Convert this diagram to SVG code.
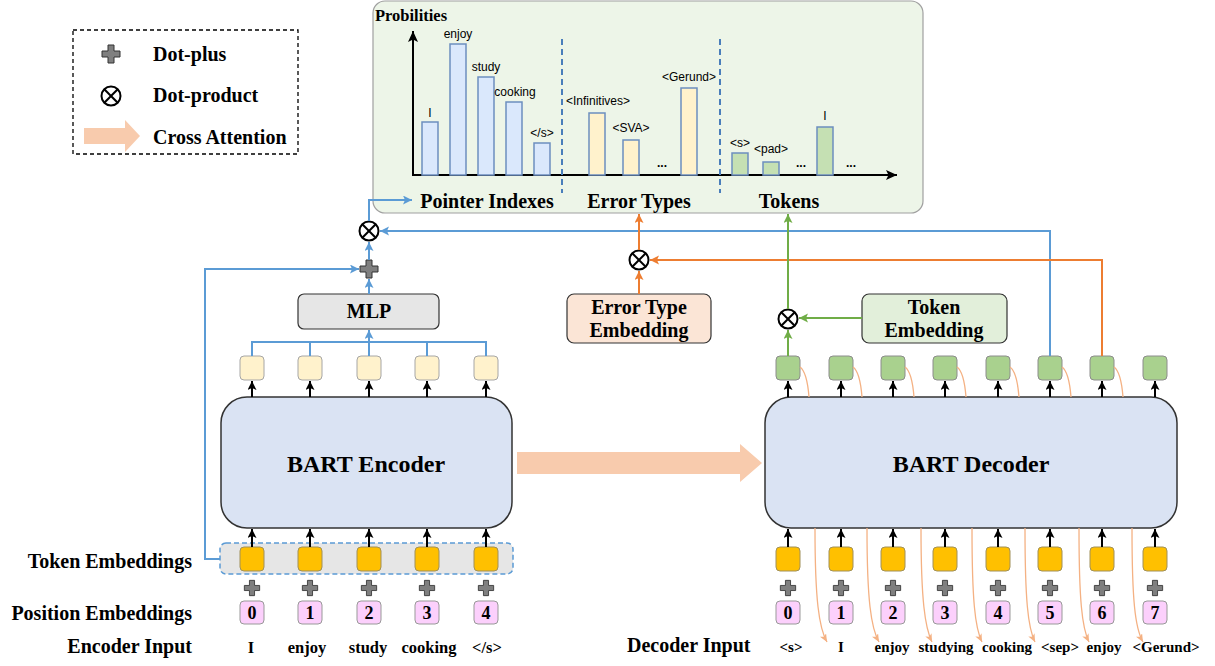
<svg xmlns="http://www.w3.org/2000/svg" width="1215" height="666" viewBox="0 0 1215 666">
<style>
.serif{font-family:"Liberation Serif","Times New Roman",serif;font-weight:bold;fill:#000}
.sans{font-family:"Liberation Sans",Arial,sans-serif;fill:#000;font-size:12px}
.lbl{font-size:20px}
.mid{text-anchor:middle}
.end{text-anchor:end}
.blk{stroke:#000;stroke-width:2;fill:none}
.blue{stroke:#5B9BD5;stroke-width:2;fill:none}
.orange{stroke:#ED7D31;stroke-width:2;fill:none}
.green{stroke:#70AD47;stroke-width:2;fill:none}
.thin{stroke:#F4B183;stroke-width:1.3;fill:none}
.ybox{fill:#FFF2CC;stroke:#A6A6A6;stroke-width:1}
.gbox{fill:#A9D18E;stroke:#8C8C8C;stroke-width:1}
.obox{fill:#FFC000;stroke:#A0905A;stroke-width:1}
.pbox{fill:#FCD0FC;stroke:#999;stroke-width:1}
.bar{stroke:#6C8EBF;stroke-width:1.5}
.sep{stroke:#4A7EBB;stroke-width:2;stroke-dasharray:6,4;fill:none}
.otimes circle{fill:#fff;stroke:#000;stroke-width:2}
.otimes line{stroke:#000;stroke-width:2}
</style>
<defs>
<marker id="aBlk" markerUnits="userSpaceOnUse" markerWidth="10" markerHeight="10" refX="9" refY="4.5" orient="auto"><path d="M0,0 L9,4.5 L0,9 L2,4.5 z" fill="#000"/></marker>
<marker id="aBlue" markerUnits="userSpaceOnUse" markerWidth="10" markerHeight="10" refX="9" refY="4.5" orient="auto"><path d="M0,0 L9,4.5 L0,9 L2,4.5 z" fill="#5B9BD5"/></marker>
<marker id="aOr" markerUnits="userSpaceOnUse" markerWidth="10" markerHeight="10" refX="9" refY="4.5" orient="auto"><path d="M0,0 L9,4.5 L0,9 L2,4.5 z" fill="#ED7D31"/></marker>
<marker id="aGr" markerUnits="userSpaceOnUse" markerWidth="10" markerHeight="10" refX="9" refY="4.5" orient="auto"><path d="M0,0 L9,4.5 L0,9 L2,4.5 z" fill="#70AD47"/></marker>
<marker id="aThin" markerUnits="userSpaceOnUse" markerWidth="9" markerHeight="8" refX="8" refY="3.5" orient="auto"><path d="M0,0 L8,3.5 L0,7 L2,3.5 z" fill="#F4B183"/></marker>
<marker id="aAxis" markerUnits="userSpaceOnUse" markerWidth="12" markerHeight="12" refX="11" refY="5" orient="auto"><path d="M0,0 L11,5 L0,10 L2.5,5 z" fill="#000"/></marker>
<path id="plus" d="M-3,-9 H3 V-3 H9 V3 H3 V9 H-3 V3 H-9 V-3 H-3 Z" fill="#7F7F7F" stroke="#333" stroke-width="1"/>
<g id="ot" class="otimes"><circle r="9.5"/><line x1="-6.7" y1="-6.7" x2="6.7" y2="6.7"/><line x1="-6.7" y1="6.7" x2="6.7" y2="-6.7"/></g>
</defs>

<!-- Legend -->
<g id="legend">
<rect x="73" y="30" width="225" height="124" fill="#fff" stroke="#000" stroke-width="1.3" stroke-dasharray="4,3"/>
<use href="#plus" x="111" y="54"/>
<text class="serif lbl" x="153" y="61">Dot-plus</text>
<use href="#ot" x="111" y="96"/>
<text class="serif lbl" x="153" y="102">Dot-product</text>
<path d="M84,128 H125 V120 L140,136 L125,152 V144 H84 Z" fill="#F8CBAD"/>
<text class="serif lbl" x="153" y="144">Cross Attention</text>
</g>

<!-- Chart panel -->
<g id="chart">
<rect x="373" y="1" width="550" height="212" rx="12" fill="#EDF5E8" stroke="#A0A0A0" stroke-width="1.2"/>
<text class="serif" x="375" y="21" font-size="16.5">Probilities</text>
<line class="blk" x1="413" y1="175" x2="413" y2="31" marker-end="url(#aAxis)"/>
<line class="blk" x1="412" y1="175" x2="897" y2="175" marker-end="url(#aAxis)"/>
<line class="sep" x1="562" y1="39" x2="562" y2="193"/>
<line class="sep" x1="720" y1="39" x2="720" y2="193"/>
<g fill="#DAE8FC">
<rect class="bar" x="422" y="122" width="16" height="53"/>
<rect class="bar" x="450" y="44" width="16" height="131"/>
<rect class="bar" x="478" y="77" width="16" height="98"/>
<rect class="bar" x="506" y="102" width="16" height="73"/>
<rect class="bar" x="534" y="143" width="16" height="32"/>
</g>
<g fill="#FFF2CC">
<rect class="bar" x="589" y="113" width="16" height="62"/>
<rect class="bar" x="623" y="140" width="16" height="35"/>
<rect class="bar" x="681" y="88" width="16" height="87"/>
</g>
<g fill="#C5E0B3">
<rect class="bar" x="732" y="153" width="16" height="22"/>
<rect class="bar" x="763" y="162" width="16" height="13"/>
<rect class="bar" x="817" y="127" width="16" height="48"/>
</g>
<text class="sans mid" x="430" y="117">I</text>
<text class="sans mid" x="458" y="38">enjoy</text>
<text class="sans mid" x="486" y="71">study</text>
<text class="sans mid" x="515" y="96">cooking</text>
<text class="sans mid" x="542" y="137">&lt;/s&gt;</text>
<text class="sans mid" x="598" y="105">&lt;Infinitives&gt;</text>
<text class="sans mid" x="631" y="132">&lt;SVA&gt;</text>
<text class="sans mid" x="689" y="81">&lt;Gerund&gt;</text>
<text class="sans mid" x="740" y="147">&lt;s&gt;</text>
<text class="sans mid" x="771" y="153">&lt;pad&gt;</text>
<text class="sans mid" x="825" y="120">I</text>
<text class="sans mid" x="662" y="167" font-weight="bold" font-size="14">...</text>
<text class="sans mid" x="801" y="167" font-weight="bold" font-size="14">...</text>
<text class="sans mid" x="851" y="167" font-weight="bold" font-size="14">...</text>
<text class="serif lbl mid" x="487" y="208">Pointer Indexes</text>
<text class="serif lbl mid" x="639" y="208">Error Types</text>
<text class="serif lbl mid" x="789" y="208">Tokens</text>
</g>

<!-- Operators -->
<g id="otimes-enc"><use href="#ot" x="369" y="231"/></g>
<g id="plus-enc"><use href="#plus" x="369" y="269"/></g>
<g id="otimes-err"><use href="#ot" x="639" y="260"/></g>
<g id="otimes-tok"><use href="#ot" x="788" y="319"/></g>

<!-- MLP -->
<g id="mlp">
<rect x="298" y="294" width="141" height="35" rx="6" fill="#E6E6E6" stroke="#333" stroke-width="1.2"/>
<text class="serif lbl mid" x="369" y="318">MLP</text>
</g>

<!-- Error Type Embedding -->
<g id="err-emb">
<rect x="567" y="294" width="144" height="49" rx="7" fill="#FBE5D6" stroke="#333" stroke-width="1.2"/>
<text class="serif lbl mid" x="639" y="314">Error Type</text>
<text class="serif lbl mid" x="639" y="337">Embedding</text>
</g>

<!-- Token Embedding -->
<g id="tok-emb">
<rect x="862" y="294" width="145" height="49" rx="7" fill="#E2EFDA" stroke="#333" stroke-width="1.2"/>
<text class="serif lbl mid" x="934" y="314">Token</text>
<text class="serif lbl mid" x="934" y="337">Embedding</text>
</g>

<!-- Encoder -->
<g id="encoder">
<rect x="221" y="397" width="291" height="131" rx="26" fill="#DAE3F3" stroke="#333" stroke-width="1.5"/>
<text class="serif mid" x="366" y="472" font-size="24">BART Encoder</text>
</g>

<!-- Decoder -->
<g id="decoder">
<rect x="765" y="397" width="412" height="131" rx="26" fill="#DAE3F3" stroke="#333" stroke-width="1.5"/>
<text class="serif mid" x="971" y="472" font-size="24">BART Decoder</text>
</g>

<!-- Cross attention arrow -->
<g id="cross-attn">
<path d="M517,452 H740 V444 L762,463 L740,482 V474 H517 Z" fill="#F8CBAD"/>
</g>

<!-- Encoder hidden boxes -->
<g id="enc-hidden">
<rect class="ybox" x="240" y="356" width="24" height="24" rx="4"/>
<rect class="ybox" x="298" y="356" width="24" height="24" rx="4"/>
<rect class="ybox" x="357" y="356" width="24" height="24" rx="4"/>
<rect class="ybox" x="415" y="356" width="24" height="24" rx="4"/>
<rect class="ybox" x="474" y="356" width="24" height="24" rx="4"/>
</g>

<!-- Encoder token embeddings -->
<g id="enc-emb">
<rect x="220" y="543" width="293" height="31" rx="6" fill="#E6E6E6" stroke="#5B9BD5" stroke-width="1.5" stroke-dasharray="5,3"/>
<rect class="obox" x="240" y="547" width="24" height="24" rx="4"/>
<rect class="obox" x="298" y="547" width="24" height="24" rx="4"/>
<rect class="obox" x="357" y="547" width="24" height="24" rx="4"/>
<rect class="obox" x="415" y="547" width="24" height="24" rx="4"/>
<rect class="obox" x="474" y="547" width="24" height="24" rx="4"/>
</g>
<g id="enc-plus">
<use href="#plus" transform="translate(252,588) scale(0.85)"/>
<use href="#plus" transform="translate(310,588) scale(0.85)"/>
<use href="#plus" transform="translate(369,588) scale(0.85)"/>
<use href="#plus" transform="translate(427,588) scale(0.85)"/>
<use href="#plus" transform="translate(486,588) scale(0.85)"/>
</g>
<g id="enc-pos">
<rect class="pbox" x="240" y="601" width="24" height="23" rx="4"/>
<rect class="pbox" x="298" y="601" width="24" height="23" rx="4"/>
<rect class="pbox" x="357" y="601" width="24" height="23" rx="4"/>
<rect class="pbox" x="415" y="601" width="24" height="23" rx="4"/>
<rect class="pbox" x="474" y="601" width="24" height="23" rx="4"/>
<text class="serif mid" font-size="18" x="252" y="619">0</text>
<text class="serif mid" font-size="18" x="310" y="619">1</text>
<text class="serif mid" font-size="18" x="369" y="619">2</text>
<text class="serif mid" font-size="18" x="427" y="619">3</text>
<text class="serif mid" font-size="18" x="486" y="619">4</text>
</g>
<g id="enc-input">
<text class="serif mid" font-size="16.5" x="251" y="653">I</text>
<text class="serif mid" font-size="16.5" x="307" y="653">enjoy</text>
<text class="serif mid" font-size="16.5" x="368" y="653">study</text>
<text class="serif mid" font-size="16.5" x="429" y="653">cooking</text>
<text class="serif mid" font-size="16.5" x="487" y="653">&lt;/s&gt;</text>
</g>

<!-- Row labels -->
<g id="row-labels">
<text class="serif lbl end" x="192" y="568">Token Embeddings</text>
<text class="serif lbl end" x="192" y="620">Position Embeddings</text>
<text class="serif lbl end" x="192" y="653">Encoder Input</text>
<text class="serif lbl" x="627" y="652">Decoder Input</text>
</g>

<!-- Decoder hidden boxes -->
<g id="dec-hidden">
<rect class="gbox" x="776" y="356" width="24" height="24" rx="4"/>
<rect class="gbox" x="829" y="356" width="24" height="24" rx="4"/>
<rect class="gbox" x="881" y="356" width="24" height="24" rx="4"/>
<rect class="gbox" x="933" y="356" width="24" height="24" rx="4"/>
<rect class="gbox" x="986" y="356" width="24" height="24" rx="4"/>
<rect class="gbox" x="1038" y="356" width="24" height="24" rx="4"/>
<rect class="gbox" x="1090" y="356" width="24" height="24" rx="4"/>
<rect class="gbox" x="1143" y="356" width="24" height="24" rx="4"/>
</g>

<!-- Decoder embeddings -->
<g id="dec-emb">
<rect class="obox" x="776" y="547" width="24" height="24" rx="4"/>
<rect class="obox" x="829" y="547" width="24" height="24" rx="4"/>
<rect class="obox" x="881" y="547" width="24" height="24" rx="4"/>
<rect class="obox" x="933" y="547" width="24" height="24" rx="4"/>
<rect class="obox" x="986" y="547" width="24" height="24" rx="4"/>
<rect class="obox" x="1038" y="547" width="24" height="24" rx="4"/>
<rect class="obox" x="1090" y="547" width="24" height="24" rx="4"/>
<rect class="obox" x="1143" y="547" width="24" height="24" rx="4"/>
</g>
<g id="dec-plus">
<use href="#plus" transform="translate(788,588) scale(0.85)"/>
<use href="#plus" transform="translate(841,588) scale(0.85)"/>
<use href="#plus" transform="translate(893,588) scale(0.85)"/>
<use href="#plus" transform="translate(945,588) scale(0.85)"/>
<use href="#plus" transform="translate(998,588) scale(0.85)"/>
<use href="#plus" transform="translate(1050,588) scale(0.85)"/>
<use href="#plus" transform="translate(1102,588) scale(0.85)"/>
<use href="#plus" transform="translate(1155,588) scale(0.85)"/>
</g>
<g id="dec-pos">
<rect class="pbox" x="776" y="601" width="24" height="23" rx="4"/>
<rect class="pbox" x="829" y="601" width="24" height="23" rx="4"/>
<rect class="pbox" x="881" y="601" width="24" height="23" rx="4"/>
<rect class="pbox" x="933" y="601" width="24" height="23" rx="4"/>
<rect class="pbox" x="986" y="601" width="24" height="23" rx="4"/>
<rect class="pbox" x="1038" y="601" width="24" height="23" rx="4"/>
<rect class="pbox" x="1090" y="601" width="24" height="23" rx="4"/>
<rect class="pbox" x="1143" y="601" width="24" height="23" rx="4"/>
<text class="serif mid" font-size="18" x="788" y="619">0</text>
<text class="serif mid" font-size="18" x="841" y="619">1</text>
<text class="serif mid" font-size="18" x="893" y="619">2</text>
<text class="serif mid" font-size="18" x="945" y="619">3</text>
<text class="serif mid" font-size="18" x="998" y="619">4</text>
<text class="serif mid" font-size="18" x="1050" y="619">5</text>
<text class="serif mid" font-size="18" x="1102" y="619">6</text>
<text class="serif mid" font-size="18" x="1155" y="619">7</text>
</g>
<g id="dec-input">
<text class="serif mid" font-size="15" x="791" y="652">&lt;s&gt;</text>
<text class="serif mid" font-size="15" x="841" y="652">I</text>
<text class="serif mid" font-size="15" x="892" y="652">enjoy</text>
<text class="serif mid" font-size="15" x="946" y="652">studying</text>
<text class="serif mid" font-size="15" x="1007" y="652">cooking</text>
<text class="serif mid" font-size="15" x="1060" y="652">&lt;sep&gt;</text>
<text class="serif mid" font-size="15" x="1104" y="652">enjoy</text>
<text class="serif mid" font-size="15" x="1166" y="652">&lt;Gerund&gt;</text>
</g>

<!-- Connectors -->
<g id="connectors">
<g class="blk">
<line x1="252" y1="547" x2="252" y2="529" marker-end="url(#aBlk)"/>
<line x1="310" y1="547" x2="310" y2="529" marker-end="url(#aBlk)"/>
<line x1="369" y1="547" x2="369" y2="529" marker-end="url(#aBlk)"/>
<line x1="427" y1="547" x2="427" y2="529" marker-end="url(#aBlk)"/>
<line x1="486" y1="547" x2="486" y2="529" marker-end="url(#aBlk)"/>
<line x1="252" y1="397" x2="252" y2="381" marker-end="url(#aBlk)"/>
<line x1="310" y1="397" x2="310" y2="381" marker-end="url(#aBlk)"/>
<line x1="369" y1="397" x2="369" y2="381" marker-end="url(#aBlk)"/>
<line x1="427" y1="397" x2="427" y2="381" marker-end="url(#aBlk)"/>
<line x1="486" y1="397" x2="486" y2="381" marker-end="url(#aBlk)"/>
<line x1="788" y1="547" x2="788" y2="529" marker-end="url(#aBlk)"/>
<line x1="841" y1="547" x2="841" y2="529" marker-end="url(#aBlk)"/>
<line x1="893" y1="547" x2="893" y2="529" marker-end="url(#aBlk)"/>
<line x1="945" y1="547" x2="945" y2="529" marker-end="url(#aBlk)"/>
<line x1="998" y1="547" x2="998" y2="529" marker-end="url(#aBlk)"/>
<line x1="1050" y1="547" x2="1050" y2="529" marker-end="url(#aBlk)"/>
<line x1="1102" y1="547" x2="1102" y2="529" marker-end="url(#aBlk)"/>
<line x1="1155" y1="547" x2="1155" y2="529" marker-end="url(#aBlk)"/>
<line x1="788" y1="397" x2="788" y2="381" marker-end="url(#aBlk)"/>
<line x1="841" y1="397" x2="841" y2="381" marker-end="url(#aBlk)"/>
<line x1="893" y1="397" x2="893" y2="381" marker-end="url(#aBlk)"/>
<line x1="945" y1="397" x2="945" y2="381" marker-end="url(#aBlk)"/>
<line x1="998" y1="397" x2="998" y2="381" marker-end="url(#aBlk)"/>
<line x1="1050" y1="397" x2="1050" y2="381" marker-end="url(#aBlk)"/>
<line x1="1102" y1="397" x2="1102" y2="381" marker-end="url(#aBlk)"/>
<line x1="1155" y1="397" x2="1155" y2="381" marker-end="url(#aBlk)"/>
</g>
<g class="thin">
<path d="M800,367 Q807,372 809,397"/>
<path d="M853,367 Q860,372 862,397"/>
<path d="M905,367 Q912,372 914,397"/>
<path d="M957,367 Q964,372 966,397"/>
<path d="M1010,367 Q1017,372 1019,397"/>
<path d="M1062,367 Q1069,372 1071,397"/>
<path d="M1114,367 Q1121,372 1123,397"/>
<path d="M815,528 C815,600 819,628 827,642" marker-end="url(#aThin)"/>
<path d="M867,528 C867,600 871,628 879,642" marker-end="url(#aThin)"/>
<path d="M921,528 C921,600 925,628 932,642" marker-end="url(#aThin)"/>
<path d="M972,528 C972,600 975,628 982,642" marker-end="url(#aThin)"/>
<path d="M1025,528 C1025,600 1028,628 1035,642" marker-end="url(#aThin)"/>
<path d="M1079,528 C1079,600 1082,628 1089,642" marker-end="url(#aThin)"/>
<path d="M1132,528 C1132,600 1135,628 1143,642" marker-end="url(#aThin)"/>
</g>
<path class="blue" d="M252,356 V342 H486 V356 M310,356 V342 M427,356 V342"/>
<line class="blue" x1="369" y1="356" x2="369" y2="330" marker-end="url(#aBlue)"/>
<line class="blue" x1="369" y1="294" x2="369" y2="279" marker-end="url(#aBlue)"/>
<line class="blue" x1="369" y1="260" x2="369" y2="242" marker-end="url(#aBlue)"/>
<path class="blue" d="M220,559 H205 V269 H359" marker-end="url(#aBlue)"/>
<path class="blue" d="M369,221 V200 H412" marker-end="url(#aBlue)"/>
<path class="blue" d="M1050,356 V231 H380" marker-end="url(#aBlue)"/>
<line class="orange" x1="639" y1="294" x2="639" y2="271" marker-end="url(#aOr)"/>
<line class="orange" x1="639" y1="250" x2="639" y2="214" marker-end="url(#aOr)"/>
<path class="orange" d="M1102,356 V260 H650" marker-end="url(#aOr)"/>
<line class="green" x1="788" y1="356" x2="788" y2="330" marker-end="url(#aGr)"/>
<line class="green" x1="862" y1="318" x2="799" y2="318" marker-end="url(#aGr)"/>
<line class="green" x1="788" y1="309" x2="788" y2="214" marker-end="url(#aGr)"/>
</g>
</svg>
